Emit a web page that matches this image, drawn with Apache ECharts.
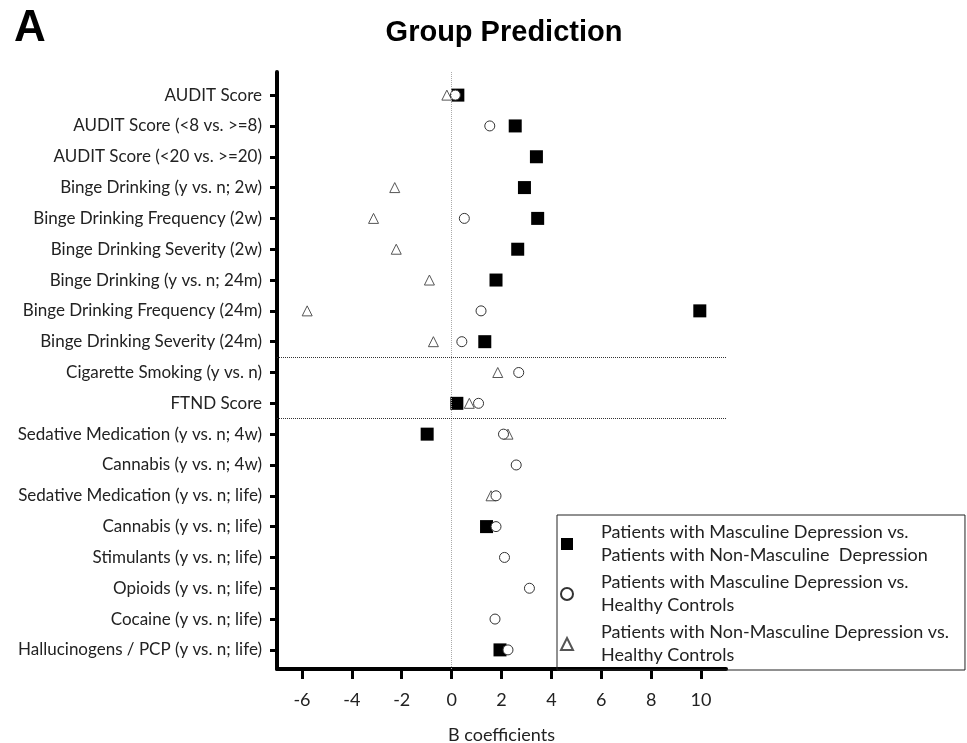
<!DOCTYPE html>
<html>
<head>
<meta charset="utf-8">
<script src="https://cdn.jsdelivr.net/npm/echarts@6/dist/echarts.min.js"></script>
<style>
html,body{margin:0;padding:0;background:#fff;}
#chart{width:967px;height:743px;}
</style>
</head>
<body>
<div id="chart"></div>
<script>
const categories = [
  'AUDIT Score',
  'AUDIT Score (<8 vs. >=8)',
  'AUDIT Score (<20 vs. >=20)',
  'Binge Drinking (y vs. n; 2w)',
  'Binge Drinking Frequency (2w)',
  'Binge Drinking Severity (2w)',
  'Binge Drinking (y vs. n; 24m)',
  'Binge Drinking Frequency (24m)',
  'Binge Drinking Severity (24m)',
  'Cigarette Smoking (y vs. n)',
  'FTND Score',
  'Sedative Medication (y vs. n; 4w)',
  'Cannabis (y vs. n; 4w)',
  'Sedative Medication (y vs. n; life)',
  'Cannabis (y vs. n; life)',
  'Stimulants (y vs. n; life)',
  'Opioids (y vs. n; life)',
  'Cocaine (y vs. n; life)',
  'Hallucinogens / PCP (y vs. n; life)'
];
const seriesNames = [
  'Patients with Masculine Depression vs.\nPatients with Non-Masculine  Depression',
  'Patients with Masculine Depression vs.\nHealthy Controls',
  'Patients with Non-Masculine Depression vs.\nHealthy Controls'
];
const mdVsNmd = [0.25, 2.55, 3.4, 2.92, 3.45, 2.65, 1.78, 9.95, 1.33, null, 0.21, -0.98, null, null, 1.40, null, null, null, 1.94];
const mdVsHc  = [0.15, 1.53, null, null, 0.51, null, null, 1.18, 0.41, 2.69, 1.08, 2.08, 2.59, 1.78, 1.78, 2.12, 3.12, 1.74, 2.26];
const nmdVsHc = [-0.19, null, null, -2.28, -3.13, -2.22, -0.89, -5.79, -0.73, 1.85, 0.71, 2.26, null, 1.58, null, null, null, null, null];
const xTicks = [-6, -4, -2, 0, 2, 4, 6, 8, 10];
const sectionBreaks = [8.5, 10.5];

const rowIdx = categories.map((c, i) => i);
function toPts(arr){
  const out = [];
  arr.forEach((v, i) => { if (v !== null) out.push([v, i]); });
  return out;
}

const FONT = 'Lato';
const chart = echarts.init(document.getElementById('chart'), null, {renderer: 'canvas'});
chart.setOption({
  animation: false,
  backgroundColor: '#fff',
  title: [
    {text: 'A', left: 9, top: 2, textStyle: {fontFamily: 'Liberation Sans', fontWeight: 'bold', fontSize: 44, color: '#000'}},
    {text: 'Group Prediction', left: 499, top: 13, textAlign: 'center', textStyle: {fontFamily: 'Liberation Sans', fontWeight: 'bold', fontSize: 29, color: '#000'}}
  ],
  grid: {left: 277, right: 241, top: 72, bottom: 74, containLabel: false, outerBoundsMode: 'none'},
  xAxis: {
    type: 'value', min: -7, max: 11,
    name: 'B coefficients', nameLocation: 'middle', nameGap: 57,
    nameTextStyle: {fontFamily: FONT, fontSize: 18, color: '#222'},
    axisLine: {show: true, onZero: false, lineStyle: {color: '#000', width: 4}},
    axisTick: {show: true, length: 10, customValues: xTicks, lineStyle: {color: '#000', width: 3}},
    axisLabel: {customValues: xTicks, margin: 22, fontFamily: FONT, fontSize: 18, color: '#222'},
    splitLine: {show: false}
  },
  yAxis: {
    type: 'value', inverse: true, min: -0.75, max: 18.62,
    axisLine: {show: true, onZero: false, lineStyle: {color: '#000', width: 4}},
    axisTick: {show: true, length: 7, customValues: rowIdx, lineStyle: {color: '#000', width: 3}},
    axisLabel: {customValues: rowIdx, margin: 15, fontFamily: FONT, fontSize: 17, color: '#222',
      formatter: v => categories[Math.round(v)] || ''},
    splitLine: {show: false}
  },
  legend: {
    orient: 'vertical', left: 557, top: 515,
    data: seriesNames,
    borderColor: '#222', borderWidth: 1, padding: [6, 16, 3, 3],
    itemWidth: 12, itemHeight: 12, itemGap: 4,
    textStyle: {fontFamily: FONT, fontSize: 18, color: '#222', lineHeight: 23, padding: [0, 0, 0, 23]}
  },
  series: [
    {
      name: seriesNames[0], type: 'scatter', symbol: 'rect', symbolSize: 13, z: 2,
      itemStyle: {color: '#000', borderColor: '#000', borderWidth: 0, opacity: 1},
      data: toPts(mdVsNmd),
      markLine: {
        silent: true, symbol: 'none', label: {show: false},
        data: [
          {xAxis: 0, lineStyle: {color: '#aaa', type: 'dotted', width: 1}},
          ...sectionBreaks.map(y => ({yAxis: y, lineStyle: {color: '#333', type: 'dotted', width: 1}}))
        ]
      }
    },
    {
      name: seriesNames[2], type: 'scatter', symbol: 'triangle', symbolSize: 10, z: 3,
      itemStyle: {color: '#fff', borderColor: '#555', borderWidth: 1, opacity: 1},
      data: toPts(nmdVsHc)
    },
    {
      name: seriesNames[1], type: 'scatter', symbol: 'circle', symbolSize: 10, z: 4,
      itemStyle: {color: '#fff', borderColor: '#333', borderWidth: 1, opacity: 1},
      data: toPts(mdVsHc)
    }
  ]
});
</script>
</body>
</html>
